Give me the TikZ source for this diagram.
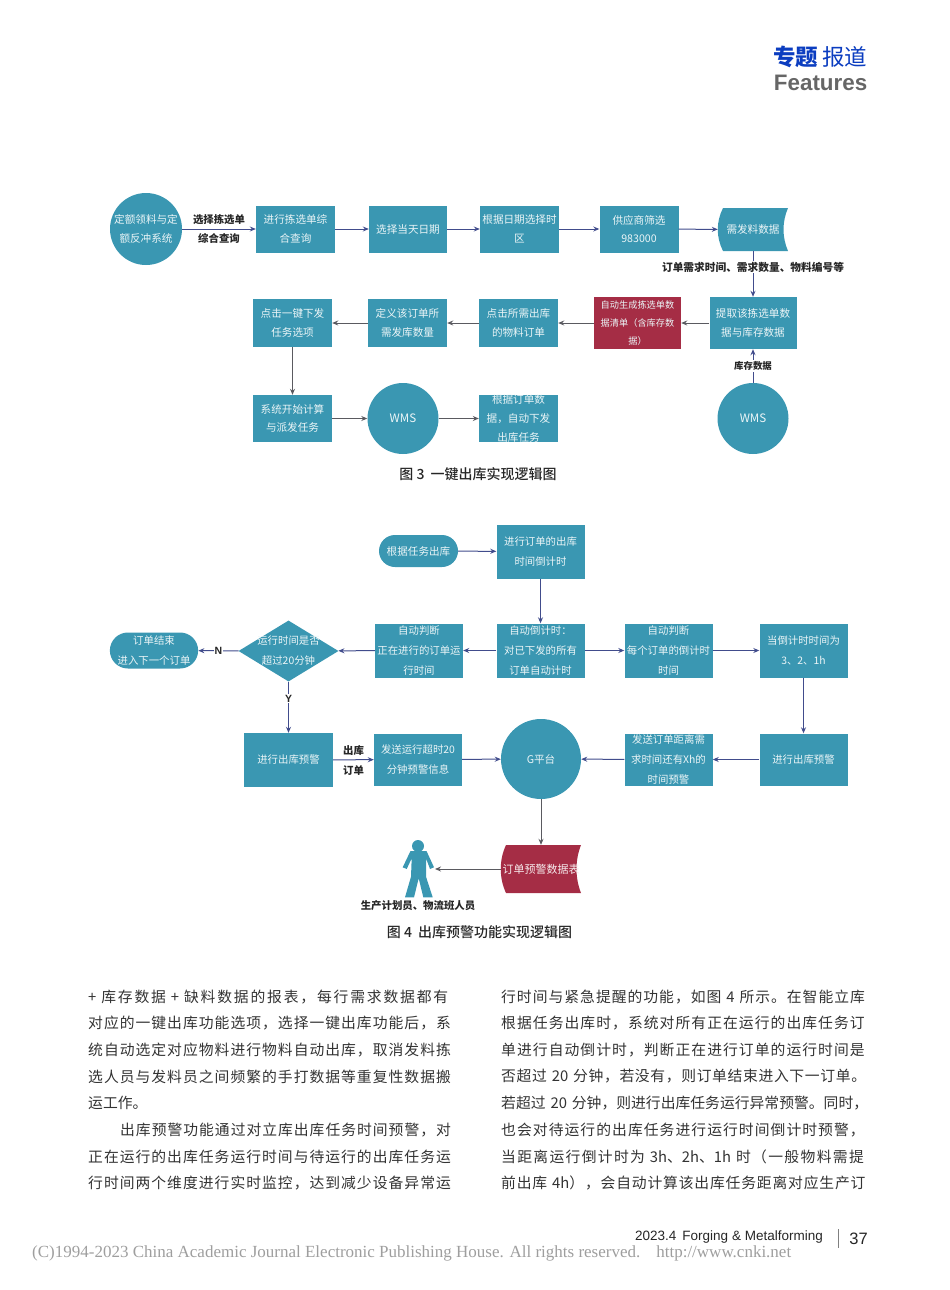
\documentclass[tikz,border=0pt]{standalone}
\usepackage{fontspec}
\setmainfont{Noto Sans CJK SC}
\newfontfamily\latinsans{Liberation Sans}
\newfontfamily\latinserif{Liberation Serif}
\newfontfamily\capfont{Noto Sans CJK SC Medium}
\usetikzlibrary{shapes.geometric,shapes.misc,arrows.meta}
\hbadness=10000
\hfuzz=20pt
\makeatletter
\count@="4E00
\loop
	\XeTeXcharclass\count@=1
	\advance\count@ by 1
\ifnum\count@<"9FFF\repeat
\makeatother
\XeTeXcharclass"FF0C=1
\XeTeXcharclass"3002=1
\XeTeXcharclass"3001=1
\XeTeXcharclass"FF08=1
\XeTeXcharclass"FF09=1
\XeTeXinterchartoks 1 1 = {\hskip 0pt plus 9pt minus 1pt\relax}
\definecolor{boxteal}{HTML}{3A97B2}
\definecolor{boxred}{HTML}{A52D45}
\definecolor{flownavy}{HTML}{414C8C}
\definecolor{flowgray}{HTML}{5A5A60}
\definecolor{headblue}{HTML}{0B3DC0}
\newcommand{\spreadline}[1]{\XeTeXinterchartokenstate=1\parfillskip=0pt\relax #1\par}
\tikzset{
	flow/.style={-{Stealth[length=6pt,width=5pt]},flownavy,line width=1pt},
	flowdark/.style={-{Stealth[length=6pt,width=5pt]},flowgray,line width=1pt},
	procbox/.style={fill=boxteal,text=white!90!boxteal,inner sep=0pt,align=center,font=\fontsize{10.6}{18.6}\selectfont},
	procboxB/.style={procbox,minimum width=88pt,minimum height=54pt,font=\fontsize{10.4}{20}\selectfont},
	tag/.style={inner sep=1pt,align=center,text=black!85,font=\fontsize{10.4}{12}\selectfont\bfseries},
	caption/.style={inner sep=0pt,text=black!85,font=\fontsize{14}{16}\capfont},
	bodyline/.style={anchor=west,inner sep=0pt,text=black!80,font=\fontsize{14.8}{18}\selectfont},
}
\begin{document}
\begin{tikzpicture}[x=1pt,y=-1pt]
	\useasboundingbox (0,0) rectangle (950,1290);
	%HEADER
	\node[anchor=east,inner sep=0pt,text=headblue,font=\fontsize{22.5}{26}\selectfont] (headtitle) at (867.5,57) {\textbf{专题}\hspace{4pt}报道};
	\node[anchor=east,inner sep=0pt,text=black!60,font=\fontsize{22.4}{26}\selectfont\latinsans\bfseries] (headsub) at (867.5,83) {Features};
	%FIGURE 3 FIRST ROW
	\node[circle,minimum size=72pt,procbox] (quota) at (146,229) {定额领料与定\\额反冲系统};
	\node[procbox,minimum width=79pt,minimum height=47pt] (pick) at (295.5,229) {进行拣选单综\\合查询};
	\node[procbox,minimum width=78pt,minimum height=47pt] (today) at (408,229) {选择当天日期};
	\node[procbox,minimum width=79pt,minimum height=47pt] (zone) at (519.5,229) {根据日期选择时\\区};
	\node[procbox,minimum width=79pt,minimum height=47pt] (vendor) at (639,229) {供应商筛选\\983000};
	\fill[boxteal] (723,208) -- (788,208) .. controls (782,222) and (782,237) .. (788,251) -- (723,251) .. controls (716,237) and (716,222) .. (723,208) -- cycle;
	\node[inner sep=0pt,minimum width=70pt,minimum height=43pt,text=white!90!boxteal,font=\fontsize{10.6}{18.6}\selectfont] (demand) at (753,229.5) {需发料数据};
	%FIGURE 3 SECOND ROW
	\node[procbox,minimum width=87pt,minimum height=52pt] (extract) at (753,323) {提取该拣选单数\\据与库存数据};
	\node[procbox,fill=boxred,minimum width=87pt,minimum height=52pt,font=\fontsize{9.2}{17.6}\selectfont] (autolist) at (637.5,323) {自动生成拣选单数\\据清单（含库存数\\据）};
	\node[procbox,minimum width=79pt,minimum height=48pt] (order) at (518.5,323) {点击所需出库\\的物料订单};
	\node[procbox,minimum width=79pt,minimum height=48pt] (amount) at (407.5,323) {定义该订单所\\需发库数量};
	\node[procbox,minimum width=79pt,minimum height=48pt] (click) at (292.5,323) {点击一键下发\\任务选项};
	%FIGURE 3 THIRD ROW
	\node[procbox,minimum width=79pt,minimum height=47pt] (dispatch) at (292.5,418.5) {系统开始计算\\与派发任务};
	\node[circle,procbox,minimum size=71pt,font=\fontsize{11.6}{14}\selectfont] (wmsA) at (403,418.5) {WMS};
	\node[procbox,minimum width=79pt,minimum height=47pt] (issue) at (518.5,418.5) {};
	\node[procbox,fill=none] (issuetext) at (issue) {根据订单数\\据，自动下发\\出库任务};
	\node[circle,procbox,minimum size=71pt,font=\fontsize{11.6}{14}\selectfont] (wmsB) at (753,418.5) {WMS};
	%FIGURE 3 CONNECTORS
	\draw[flow] (quota) -- node[tag,above=2.5pt] (tagpick) {选择拣选单} node[tag,below=3pt] (tagquery) {综合查询} (pick);
	\draw[flow] (pick) -- (today);
	\draw[flow] (today) -- (zone);
	\draw[flow] (zone) -- (vendor);
	\draw[flow] (vendor) -- (demand);
	\draw[flow] (demand) -- node[tag,fill=white,pos=.35,font=\fontsize{10.7}{12}\selectfont\bfseries] (tagdemand) {订单需求时间、需求数量、物料编号等} (extract);
	\draw[flowdark] (extract) -- (autolist);
	\draw[flowdark] (autolist) -- (order);
	\draw[flowdark] (order) -- (amount);
	\draw[flowdark] (amount) -- (click);
	\draw[flowdark] (click) -- (dispatch);
	\draw[flowdark] (dispatch) -- (wmsA);
	\draw[flowdark] (wmsA) -- (issue);
	\draw[flow] (wmsB) -- node[tag,fill=white,font=\fontsize{9.4}{12}\selectfont\bfseries] (tagstock) {库存数据} (extract);
	\node[caption] (capthree) at (478,474.5) {图 3\hspace{6pt}一键出库实现逻辑图};
	%FIGURE 4 TOP
	\node[rounded rectangle,procbox,minimum width=79pt,minimum height=32pt] (start) at (418.5,551) {根据任务出库};
	\node[procboxB] (countdown) at (540.5,551.5) {进行订单的出库\\时间倒计时};
	%FIGURE 4 MIDDLE ROW
	\node[procboxB] (autotimer) at (540.5,650.5) {自动倒计时：\\对已下发的所有\\订单自动计时};
	\node[procboxB] (judgerun) at (419,650.5) {自动判断\\正在进行的订单运\\行时间};
	\node[diamond,fill=boxteal,inner sep=0pt,minimum width=100pt,minimum height=61pt] (check) at (288.5,651) {};
	\node[procbox,fill=none,font=\fontsize{10.4}{20}\selectfont] (checktext) at (check) {运行时间是否\\超过20分钟};
	\node[rounded rectangle,procbox,minimum width=88pt,minimum height=36pt,font=\fontsize{10.4}{20}\selectfont] (finish) at (154,650.5) {订单结束\\进入下一个订单};
	\node[procboxB] (judgeeach) at (668.5,650.5) {自动判断\\每个订单的倒计时\\时间};
	\node[procboxB] (remain) at (803.5,650.5) {当倒计时时间为\\3、2、1h};
	%FIGURE 4 LOWER ROW
	\node[procboxB,minimum width=89pt] (warnA) at (288.5,760) {进行出库预警};
	\node[procboxB,minimum height=52pt] (sendA) at (418,759.5) {发送运行超时20\\分钟预警信息};
	\node[circle,procbox,minimum size=80pt] (gate) at (541,759) {G平台};
	\node[procboxB,minimum height=52pt] (sendB) at (668.5,759.5) {};
	\node[procbox,fill=none,font=\fontsize{10.4}{20}\selectfont] (sendBtext) at (sendB) {发送订单距离需\\求时间还有Xh的\\时间预警};
	\node[procboxB,minimum height=52pt] (warnB) at (803.5,759.5) {进行出库预警};
	\fill[boxred] (506,845) -- (581,845) .. controls (575,860) and (575,878) .. (581,893) -- (506,893) .. controls (499,878) and (499,860) .. (506,845) -- cycle;
	\node[inner sep=0pt,minimum width=80pt,minimum height=48pt,text=white!90!boxred,font=\fontsize{11}{14}\selectfont] (report) at (541,869) {订单预警数据表};
	%PERSON
	\fill[boxteal] (418,846) circle (6);
	\fill[boxteal] (410.5,851) -- (402.7,867.3) -- (406.7,869) -- (411.7,858.3) -- (411,876.7) -- (405,897.3) -- (414,897.3) -- (418.7,878.3) -- (423.3,897.3) -- (432.7,897.3) -- (426,876.7) -- (426,858.3) -- (430,869) -- (434,867.3) -- (426.5,851) -- cycle;
	\coordinate (person) at (435,869);
	\node[tag] (tagstaff) at (418,906) {生产计划员、物流班人员};
	%FIGURE 4 CONNECTORS
	\draw[flow] (start) -- (countdown);
	\draw[flow] (countdown) -- (autotimer);
	\draw[flow] (autotimer) -- (judgerun);
	\draw[flow] (judgerun) -- (check);
	\draw[flow] (check) -- node[tag,fill=white,font=\fontsize{10.5}{12}\selectfont\latinsans\bfseries] (tagno) {N} (finish);
	\draw[flow] (autotimer) -- (judgeeach);
	\draw[flow] (judgeeach) -- (remain);
	\draw[flow] (remain) -- (warnB);
	\draw[flow] (warnB) -- (sendB);
	\draw[flow] (sendB) -- (gate);
	\draw[flow] (check) -- node[tag,fill=white,pos=.33,font=\fontsize{10.5}{12}\selectfont\latinsans\bfseries] (tagyes) {Y} (warnA);
	\draw[flow] (warnA) -- node[tag,above=3pt] (tagout) {出库} node[tag,below=4pt] (tagorder) {订单} (sendA);
	\draw[flow] (sendA) -- (gate);
	\draw[flowdark] (gate) -- (report);
	\draw[flowdark] (report) -- (person);
	\node[caption] (capfour) at (479.5,932.5) {图 4\hspace{6pt}出库预警功能实现逻辑图};
	%BODY TEXT
	\foreach \n/\y/\txt in {a/997/{+ 库存数据 + 缺料数据的报表，每行需求数据都有},
		b/1023.5/{对应的一键出库功能选项，选择一键出库功能后，系},
		c/1050/{统自动选定对应物料进行物料自动出库，取消发料拣},
		d/1076.5/{选人员与发料员之间频繁的手打数据等重复性数据搬},
		g/1156.5/{正在运行的出库任务运行时间与待运行的出库任务运},
		h/1183/{行时间两个维度进行实时监控，达到减少设备异常运}}
		\node[bodyline,text width=366pt] (left\n) at (88,\y) {\spreadline{\txt}};
	\node[bodyline] (lefte) at (88,1103) {运工作。};
	\node[bodyline,text width=334pt] (leftf) at (120,1130) {\spreadline{出库预警功能通过对立库出库任务时间预警，对}};
	\foreach \n/\y/\txt in {a/997/{行时间与紧急提醒的功能，如图 4 所示。在智能立库},
		b/1023.5/{根据任务出库时，系统对所有正在运行的出库任务订},
		c/1050/{单进行自动倒计时，判断正在进行订单的运行时间是},
		d/1076.5/{否超过 20 分钟，若没有，则订单结束进入下一订单。},
		e/1103/{若超过 20 分钟，则进行出库任务运行异常预警。同时，},
		f/1130/{也会对待运行的出库任务进行运行时间倒计时预警，},
		g/1156.5/{当距离运行倒计时为 3h、2h、1h 时（一般物料需提},
		h/1183/{前出库 4h），会自动计算该出库任务距离对应生产订}}
		\node[bodyline,text width=367pt] (right\n) at (501,\y) {\spreadline{\txt}};
	%FOOTER
	\node[anchor=east,inner sep=0pt,text=black!85,font=\fontsize{13.5}{16}\selectfont\latinsans] (footjournal) at (823,1237) {2023.4\hspace{6pt}Forging \& Metalforming};
	\coordinate (ruletop) at (838,1229);
	\coordinate (rulebottom) at (838,1248);
	\draw[black!50,line width=0.7pt] (ruletop) -- (rulebottom);
	\node[anchor=east,inner sep=0pt,text=black!85,font=\fontsize{16.5}{20}\selectfont\latinsans] (footpage) at (868,1238.5) {37};
	\node[anchor=west,inner sep=0pt,text=black!38,font=\fontsize{17}{20}\selectfont\latinserif] (footmark) at (32,1253) {(C)1994-2023 China Academic Journal Electronic Publishing House. All rights reserved.\hspace{16pt}http://www.cnki.net};
\end{tikzpicture}
\end{document}
